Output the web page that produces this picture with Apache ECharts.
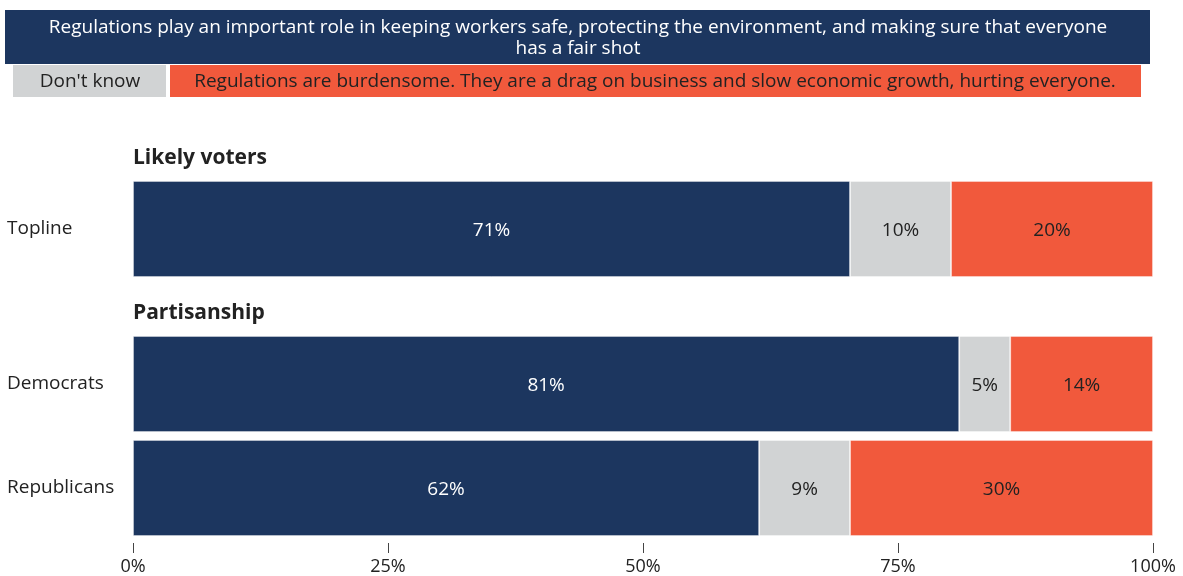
<!DOCTYPE html>
<html>
<head>
<meta charset="utf-8">
<script src="https://cdn.jsdelivr.net/npm/echarts@6/dist/echarts.min.js"></script>
<style>
html,body{margin:0;padding:0;background:#fff;}
#chart{width:1183px;height:576px;}
</style>
</head>
<body>
<div id="chart"></div>
<script>
// ---- data ----
const groupTitles = ['Likely voters', 'Partisanship'];
const toplineCategories = ['Topline'];
const partyCategories = ['Democrats', 'Republicans'];
const seriesNames = [
  'Regulations play an important role in keeping workers safe, protecting the environment, and making sure that everyone has a fair shot',
  "Don't know",
  'Regulations are burdensome. They are a drag on business and slow economic growth, hurting everyone.'
];
// values per row: [Topline, Democrats, Republicans]
const importantRole = [71, 81, 62];
const dontKnow = [10, 5, 9];
const burdensome = [20, 14, 30];
const tickLabels = ['0%', '25%', '50%', '75%', '100%'];

// ---- styles ----
const FONT = '"Open Sans", sans-serif';
const NAVY = '#1c365f';
const GREY = '#d1d3d4';
const ORANGE = '#f1593c';
const TEXT = '#222';

const allSeries = [importantRole, dontKnow, burdensome];
const colors = [NAVY, GREY, ORANGE];
const labelColors = ['#fff', TEXT, TEXT];
const totals = importantRole.map((v, i) => importantRole[i] + dontKnow[i] + burdensome[i]);

function rowData(values, rows) {
  return rows.map(r => ({ value: values[r] / totals[r] * 100, raw: values[r] }));
}

const series = [];
[[0, [0]], [1, [1, 2]]].forEach(([gi, rows]) => {
  allSeries.forEach((vals, si) => {
    series.push({
      name: seriesNames[si],
      type: 'bar',
      stack: 'g' + gi,
      xAxisIndex: gi,
      yAxisIndex: gi,
      barWidth: 96,
      data: rowData(vals, rows),
      itemStyle: { color: colors[si], borderColor: 'rgba(255,255,255,0.35)', borderWidth: 1 },
      label: {
        show: true,
        position: 'inside',
        offset: [0, 2],
        color: labelColors[si],
        fontFamily: FONT,
        fontSize: 19,
        formatter: p => p.data.raw + '%'
      },
      emphasis: { disabled: true }
    });
  });
});

const chart = echarts.init(document.getElementById('chart'), null, { renderer: 'canvas' });
chart.setOption({
  animation: false,
  textStyle: { fontFamily: FONT },
  title: [
    { text: groupTitles[0], left: 128, top: 143, textStyle: { fontFamily: FONT, fontSize: 21, fontWeight: 'bold', color: TEXT } },
    { text: groupTitles[1], left: 128, top: 298, textStyle: { fontFamily: FONT, fontSize: 21, fontWeight: 'bold', color: TEXT } }
  ],
  grid: [
    { left: 133, right: 30, top: 181, height: 96 },
    { left: 133, right: 30, top: 332, height: 208 }
  ],
  xAxis: [
    { gridIndex: 0, type: 'value', min: 0, max: 100, show: false },
    {
      gridIndex: 1, type: 'value', min: 0, max: 100, interval: 25, offset: 3,
      axisLine: { show: false },
      axisTick: { show: true, length: 10, lineStyle: { color: '#444', width: 1 } },
      splitLine: { show: false },
      axisLabel: {
        margin: 15, fontFamily: FONT, fontSize: 18, color: TEXT,
        formatter: v => tickLabels[Math.round(v / 25)]
      }
    }
  ],
  yAxis: [
    {
      gridIndex: 0, type: 'category', data: toplineCategories, inverse: true,
      axisLine: { show: false }, axisTick: { show: false },
      axisLabel: { align: 'left', margin: 126, fontFamily: FONT, fontSize: 19, color: TEXT, padding: [3, 0, 0, 0] }
    },
    {
      gridIndex: 1, type: 'category', data: partyCategories, inverse: true,
      axisLine: { show: false }, axisTick: { show: false },
      axisLabel: { align: 'left', margin: 126, fontFamily: FONT, fontSize: 19, color: TEXT, padding: [3, 0, 0, 0] }
    }
  ],
  legend: { show: false },
  graphic: [
    { type: 'rect', shape: { x: 5, y: 10, width: 1145, height: 54 }, style: { fill: NAVY } },
    { type: 'text', style: { x: 578, y: 38, text: 'Regulations play an important role in keeping workers safe, protecting the environment, and making sure that everyone\nhas a fair shot', align: 'center', verticalAlign: 'middle', fill: '#fff', font: '19px ' + FONT, lineHeight: 21 } },
    { type: 'rect', shape: { x: 13, y: 65, width: 153, height: 32 }, style: { fill: GREY } },
    { type: 'text', style: { x: 90, y: 82, text: seriesNames[1], align: 'center', verticalAlign: 'middle', fill: TEXT, font: '19px ' + FONT } },
    { type: 'rect', shape: { x: 170, y: 65, width: 971, height: 32 }, style: { fill: ORANGE } },
    { type: 'text', style: { x: 655, y: 82, text: seriesNames[2], align: 'center', verticalAlign: 'middle', fill: TEXT, font: '19px ' + FONT } }
  ],
  series: series
});
</script>
</body>
</html>
